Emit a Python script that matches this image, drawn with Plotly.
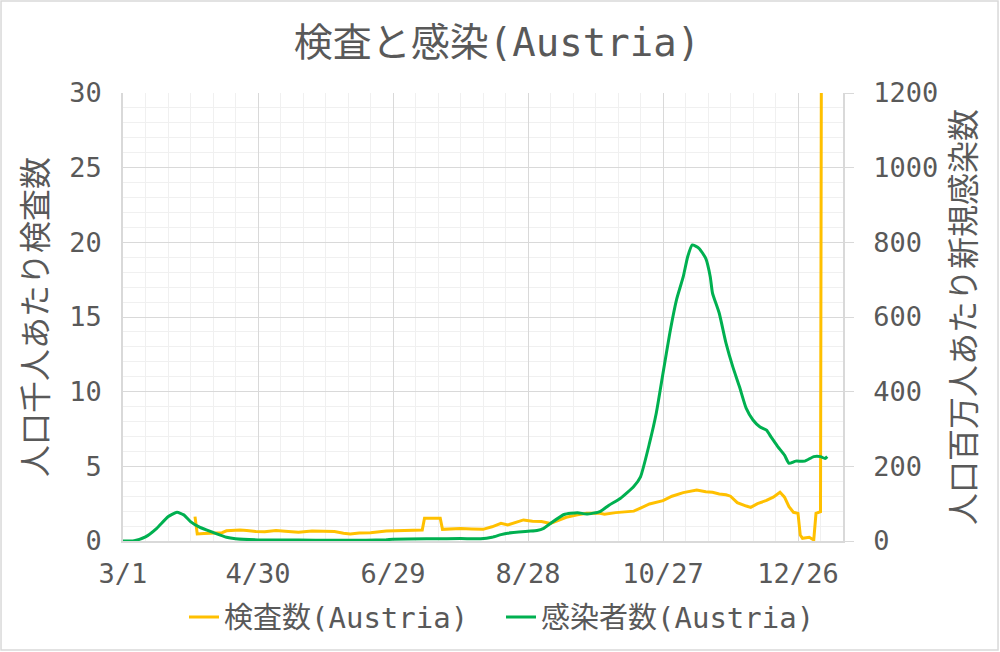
import plotly.graph_objects as go
import pandas as pd

# data
start = pd.Timestamp("2020-03-01")

test_days = [32, 33, 36, 40, 44, 46, 52, 55, 59, 63, 68, 72, 78, 84, 90, 94, 98, 101, 105, 110,
             117, 122, 126, 133, 134, 141, 142, 146, 150, 155, 160, 164, 168, 171, 175, 178, 182,
             186, 190, 194, 197, 202, 206, 212, 214, 219, 224, 227, 230, 234, 240, 244, 249, 255,
             259, 262, 265, 268, 270, 273, 277, 279, 282, 286, 289, 292, 294, 296, 298, 300, 301,
             302, 305, 307, 308, 310, 311]
test_vals = [1.63, 0.47, 0.5, 0.52, 0.56, 0.68, 0.74, 0.7, 0.63, 0.62, 0.7, 0.66, 0.58, 0.67, 0.66,
             0.63, 0.52, 0.47, 0.53, 0.56, 0.67, 0.7, 0.72, 0.74, 1.52, 1.52, 0.78, 0.8, 0.83, 0.8,
             0.78, 0.95, 1.18, 1.07, 1.25, 1.41, 1.33, 1.3, 1.18, 1.4, 1.59, 1.75, 1.85, 1.85, 1.8,
             1.9, 1.95, 2.0, 2.2, 2.48, 2.7, 3.0, 3.24, 3.41, 3.3, 3.26, 3.15, 3.1, 3.0, 2.57, 2.34,
             2.25, 2.5, 2.72, 2.94, 3.26, 2.94, 2.3, 1.92, 1.85, 0.4, 0.18, 0.25, 0.07, 1.85, 1.96, 80]

case_days = [0, 5, 10, 15, 20, 24, 27, 30, 34, 40, 46, 50, 60, 78, 93, 108, 117, 120, 138, 150,
             159, 164, 168, 171, 180, 184, 187, 190, 196, 202, 206, 212, 216, 221, 227, 230, 234,
             237, 240, 243, 246, 249, 251, 253, 256, 259, 261, 262, 265, 268, 271, 274, 277, 280,
             283, 286, 288, 291, 294, 296, 299, 303, 307, 310, 312, 313]
case_vals = [0, 1, 11, 34, 65, 77, 70, 52, 37, 23, 10, 6, 3, 2.5, 1.7, 2, 3.6, 5, 6, 6.5,
             6, 10, 17, 21, 26, 28, 34, 47, 71, 76, 72, 79, 96, 114, 146, 172, 262,
             342, 449, 556, 646, 708, 762, 793, 784, 757, 708, 664, 610, 530, 467, 413, 355, 324,
             306, 297, 279, 253, 230, 208, 214, 214, 226, 226, 221, 226]

test_dates = [start + pd.Timedelta(days=d) for d in test_days]
case_dates = [start + pd.Timedelta(days=d) for d in case_days]

DAY = 86400000
mono_jp = "DejaVu Sans Mono, Noto Sans CJK JP"
jp_font = "Noto Sans CJK JP"
grey = "#595959"
tick_font = dict(family="DejaVu Sans Mono", size=27, color=grey)

fig = go.Figure()
fig.add_trace(go.Scatter(x=test_dates, y=test_vals, mode="lines", name="検査数(Austria)",
                         line=dict(color="#FFC000", width=3)))
fig.add_trace(go.Scatter(x=case_dates, y=case_vals, mode="lines", name="感染者数(Austria)",
                         yaxis="y2", line=dict(color="#00B050", width=3, shape="spline", smoothing=0.5)))

fig.update_layout(
    width=1000, height=652,
    margin=dict(l=123, r=157, t=93, b=111, autoexpand=False),
    paper_bgcolor="white", plot_bgcolor="white",
    font=dict(family=mono_jp, color=grey),
    title=dict(text="検査と感染(Austria)", x=0.497, xref="container", xanchor="center",
               y=1 - 42 / 652, yref="container", yanchor="middle",
               font=dict(family=mono_jp, size=39, color=grey)),
    showlegend=True,
    legend=dict(orientation="h", x=0.525, xanchor="center", y=-0.17, yanchor="middle",
                font=dict(family=mono_jp, size=29, color=grey), itemwidth=30,
                entrywidth=272, entrywidthmode="pixels"),
    xaxis=dict(type="date", range=[start, start + pd.Timedelta(days=320)],
               tick0=start, dtick=60 * DAY, tickformat="%-m/%-d",
               tickfont=tick_font, ticklabelstandoff=8, automargin=False,
               showgrid=True, gridcolor="#d9d9d9", gridwidth=1,
               showline=True, linecolor="#d9d9d9", linewidth=1.5,
               minor=dict(tick0=start, dtick=10 * DAY, showgrid=True, gridcolor="#f0f0f0"),
               zeroline=False),
    yaxis=dict(range=[0, 30], dtick=5, tickfont=tick_font, ticklabelstandoff=14, automargin=False,
               showgrid=True, gridcolor="#d9d9d9", gridwidth=1,
               showline=True, linecolor="#d9d9d9", linewidth=1.5,
               minor=dict(dtick=1, showgrid=True, gridcolor="#f0f0f0"),
               zeroline=False,
               title=dict(text="人口千人あたり検査数", standoff=12,
                          font=dict(family=jp_font, size=32, color=grey))),
    yaxis2=dict(range=[0, 1200], dtick=200, overlaying="y", side="right",
                tickfont=tick_font, ticklabelstandoff=14, automargin=False,
                ticks="outside", ticklen=9, tickcolor="#d9d9d9",
                showgrid=False, showline=True, linecolor="#d9d9d9", linewidth=1.5,
                zeroline=False,
                title=dict(text="人口百万人あたり新規感染数", standoff=12,
                           font=dict(family=jp_font, size=32, color=grey))),
)

# chart border
fig.add_shape(type="rect", xref="paper", yref="paper",
              x0=-0.1694, x1=1.2153, y0=-0.2433, y1=1.2054,
              line=dict(color="#d9d9d9", width=1.5), layer="below")

# drop the page's default body margin so the figure sits at the top-left corner
fig.write_html("out.html", config={"displayModeBar": False},
               post_script="document.body.style.margin='0';")
